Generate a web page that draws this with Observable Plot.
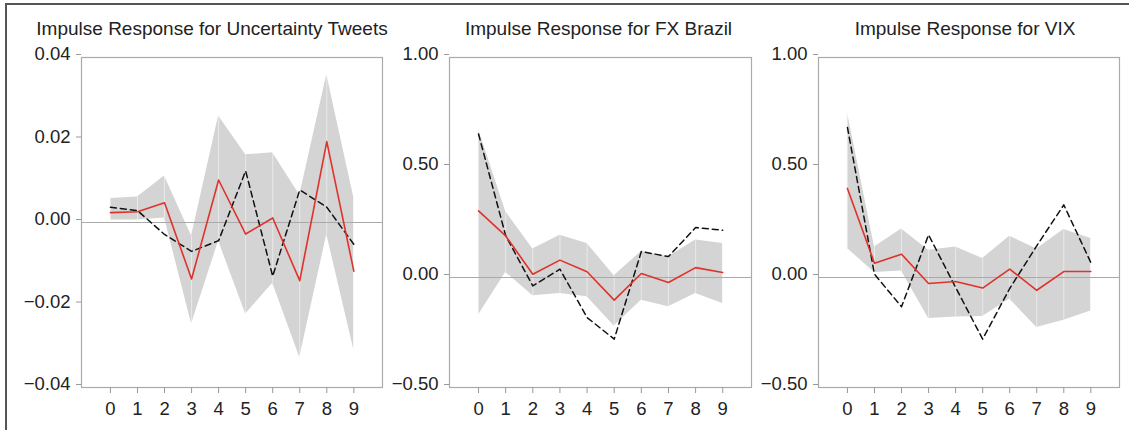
<!DOCTYPE html>
<html>
<head>
<meta charset="utf-8">
<script src="https://cdn.jsdelivr.net/npm/d3@7"></script>
<script src="https://cdn.jsdelivr.net/npm/@observablehq/plot@0.6"></script>
<style>
  html, body { margin: 0; padding: 0; background: #fff; }
  #wrap { position: relative; width: 1129px; height: 430px; overflow: hidden; background: #fff; }
  #wrap svg { position: absolute; top: 0; }
  #border { position: absolute; left: 5px; top: 3px; right: -5px; bottom: -5px; border-left: 2px solid #555; border-top: 2px solid #555; }
</style>
</head>
<body>
<div id="wrap"><div id="border"></div></div>
<script>
// ---- data ----
const steps = [0, 1, 2, 3, 4, 5, 6, 7, 8, 9];
const xTicks = [0, 1, 2, 3, 4, 5, 6, 7, 8, 9];

const titles = ["Impulse Response for Uncertainty Tweets", "Impulse Response for FX Brazil", "Impulse Response for VIX"];

const tweetsResponse = [0.0024, 0.0026, 0.0048, -0.0137, 0.0103, -0.0028, 0.0011, -0.0141, 0.0196, -0.0118];
const tweetsAlt      = [0.0037, 0.0029, -0.0029, -0.0070, -0.0044, 0.0125, -0.0130, 0.0079, 0.0037, -0.0053];
const tweetsUpper    = [0.0058, 0.0062, 0.0113, -0.0033, 0.0258, 0.0164, 0.0169, 0.0066, 0.0358, 0.0060];
const tweetsLower    = [0.0006, 0.0006, 0.0011, -0.0246, -0.0045, -0.0222, -0.0147, -0.0327, -0.0029, -0.0309];
const tweetsYTicks   = [-0.04, -0.02, 0, 0.02, 0.04];

const fxResponse = [0.303, 0.189, 0.015, 0.079, 0.026, -0.103, 0.018, -0.023, 0.045, 0.023];
const fxAlt      = [0.652, 0.190, -0.038, 0.038, -0.182, -0.280, 0.118, 0.095, 0.227, 0.215];
const fxUpper    = [0.674, 0.300, 0.129, 0.192, 0.155, 0.008, 0.118, 0.094, 0.170, 0.155];
const fxLower    = [-0.171, 0.023, -0.083, -0.073, -0.088, -0.220, -0.103, -0.133, -0.073, -0.118];

const vixResponse = [0.405, 0.065, 0.106, -0.027, -0.018, -0.048, 0.038, -0.058, 0.027, 0.027];
const vixAlt      = [0.682, 0.015, -0.133, 0.194, -0.045, -0.280, -0.050, 0.144, 0.330, 0.068];
const vixUpper    = [0.750, 0.139, 0.220, 0.124, 0.139, 0.086, 0.188, 0.129, 0.218, 0.177];
const vixLower    = [0.132, 0.023, 0.030, -0.186, -0.179, -0.177, -0.098, -0.227, -0.194, -0.152];
const levelYTicks = [-0.5, 0, 0.5, 1.0];

// ---- drawing ----
const fmt = d3.format(".2f");
const panels = [
  {title: titles[0], resp: tweetsResponse, alt: tweetsAlt, up: tweetsUpper, lo: tweetsLower, yDomain: [-0.04, 0.04], yTicks: tweetsYTicks,
   left: 0, width: 390, ml: 81, mr: 8, titleDx: -20},
  {title: titles[1], resp: fxResponse, alt: fxAlt, up: fxUpper, lo: fxLower, yDomain: [-0.5, 1.0], yTicks: levelYTicks,
   left: 390, width: 370, ml: 59, mr: 9, titleDx: -2},
  {title: titles[2], resp: vixResponse, alt: vixAlt, up: vixUpper, lo: vixLower, yDomain: [-0.5, 1.0], yTicks: levelYTicks,
   left: 760, width: 369, ml: 58, mr: 10, titleDx: -4}
];

const wrap = document.getElementById("wrap");
for (const p of panels) {
  const rows = steps.map((s, i) => ({step: s, resp: p.resp[i], alt: p.alt[i], up: p.up[i], lo: p.lo[i]}));
  const chart = Plot.plot({
    width: p.width,
    height: 430,
    marginLeft: p.ml,
    marginRight: p.mr,
    marginTop: 57,
    marginBottom: 43,
    style: {fontFamily: "'Liberation Sans', Arial, sans-serif", fontSize: "18px", color: "#222", background: "transparent", overflow: "visible"},
    x: {domain: [-1.07, 10.06], axis: null},
    y: {domain: p.yDomain, axis: null},
    marks: [
      Plot.areaY(rows, {x: "step", y1: "lo", y2: "up", fill: "#d4d4d4", curve: "linear"}),
      Plot.ruleX(rows, {x: "step", y1: "lo", y2: "up", stroke: "#fff", strokeOpacity: 0.5, strokeWidth: 1}),
      Plot.ruleY([0], {stroke: "#aaa", strokeWidth: 1.2}),
      Plot.line(rows, {x: "step", y: "alt", stroke: "#111", strokeWidth: 1.5, strokeDasharray: "6,4"}),
      Plot.line(rows, {x: "step", y: "resp", stroke: "#e0322c", strokeWidth: 1.6}),
      Plot.frame({stroke: "#aaa", strokeWidth: 1.2}),
      Plot.axisY(p.yTicks, {anchor: "left", tickSize: 5, tickPadding: 6, stroke: "#999", fill: "#222", dy: -3,
        tickFormat: fmt, fontSize: 18.5, label: null}),
      Plot.axisX(xTicks, {anchor: "bottom", tickSize: 6, tickPadding: 8, stroke: "#999", fill: "#222",
        tickFormat: d => String(d), fontSize: 18.5, label: null}),
      Plot.text([p.title], {frameAnchor: "top", dy: -29, dx: p.titleDx, fill: "#222", fontSize: 19, lineAnchor: "middle"})
    ]
  });
  chart.style.left = p.left + "px";
  wrap.appendChild(chart);
}
</script>
</body>
</html>
